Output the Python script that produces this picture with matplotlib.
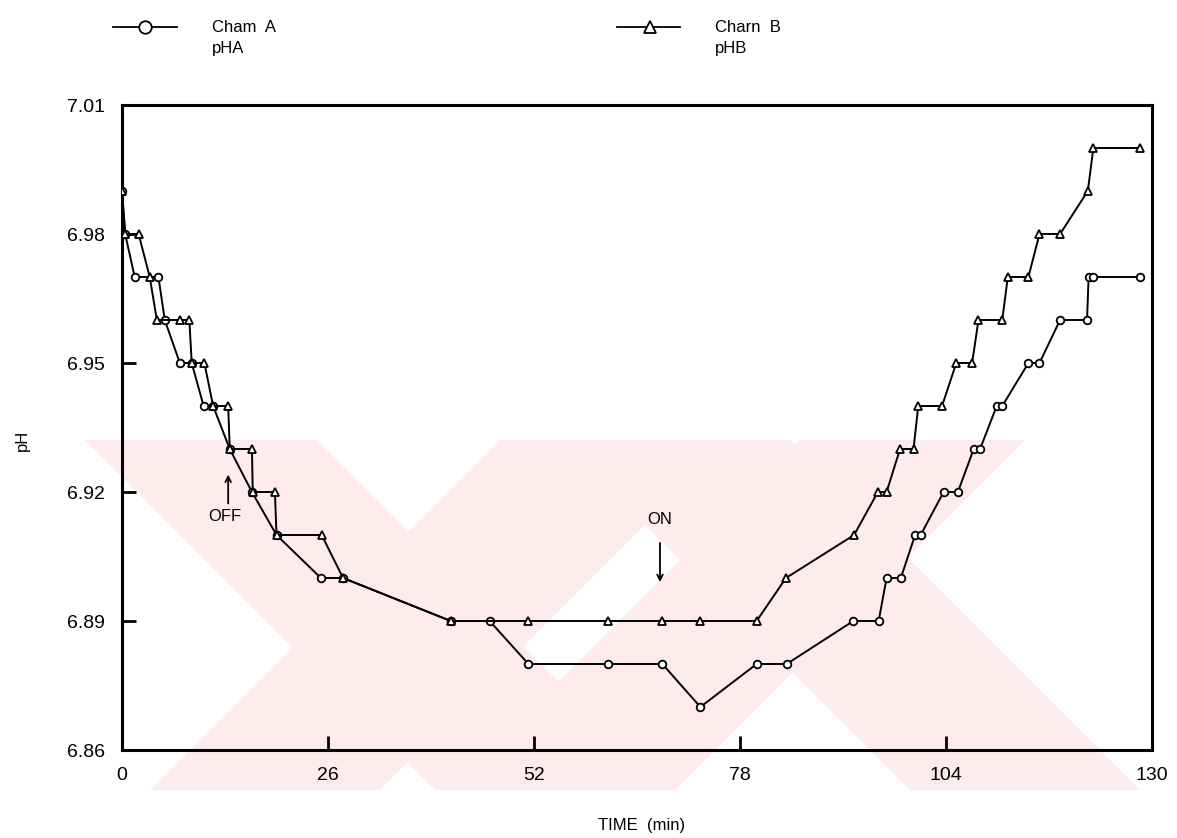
import matplotlib
matplotlib.use("Agg")
import matplotlib.pyplot as plt
from matplotlib.lines import Line2D
from matplotlib.patches import Polygon

plt.rcParams['font.family'] = ['Liberation Sans', 'DejaVu Sans']

# Cham A (circles)
time_a = [0, 0.4, 1.6, 4.6, 5.4, 7.3, 8.8, 10.3, 11.5, 13.6, 16.4, 19.5, 25.1, 27.9,
          41.5, 46.4, 51.3, 61.3, 68.2, 73.0, 80.1, 83.9, 92.3, 95.5, 96.5, 98.3,
          100.1, 100.8, 103.7, 105.5, 107.5, 108.3, 110.4, 111.1, 114.4, 115.8,
          118.4, 121.8, 122.0, 122.6, 128.5]
ph_a = [6.99, 6.98, 6.97, 6.97, 6.96, 6.95, 6.95, 6.94, 6.94, 6.93, 6.92, 6.91, 6.90, 6.90,
        6.89, 6.89, 6.88, 6.88, 6.88, 6.87, 6.88, 6.88, 6.89, 6.89, 6.90, 6.90,
        6.91, 6.91, 6.92, 6.92, 6.93, 6.93, 6.94, 6.94, 6.95, 6.95,
        6.96, 6.96, 6.97, 6.97, 6.97]

# Cham B (triangles)
time_b = [0, 0.4, 2.1, 3.5, 4.4, 7.3, 8.5, 8.8, 10.4, 11.5, 13.4, 13.6, 16.4, 16.5,
          19.3, 19.5, 25.2, 27.9, 41.5, 51.3, 61.3, 68.2, 73.0, 80.1, 83.8, 92.4,
          95.4, 96.5, 98.2, 99.9, 100.5, 103.5, 105.3, 107.3, 108.1, 111.1, 111.8,
          114.4, 115.8, 118.4, 121.9, 122.6, 128.5]
ph_b = [6.99, 6.98, 6.98, 6.97, 6.96, 6.96, 6.96, 6.95, 6.95, 6.94, 6.94, 6.93, 6.93, 6.92,
        6.92, 6.91, 6.91, 6.90, 6.89, 6.89, 6.89, 6.89, 6.89, 6.89, 6.90, 6.91,
        6.92, 6.92, 6.93, 6.93, 6.94, 6.94, 6.95, 6.95, 6.96, 6.96, 6.97,
        6.97, 6.98, 6.98, 6.99, 7.00, 7.00]

x_ticks = [0, 26, 52, 78, 104, 130]
y_ticks = [6.86, 6.89, 6.92, 6.95, 6.98, 7.01]

W, H = 1177, 838
fig = plt.figure(figsize=(W / 100, H / 100), dpi=100)

def fx(px):
    return px / W

def fy(py):
    return 1 - py / H

# faint pink watermark behind the plot
pink = '#fdebee'
def stripe(x0, x1, y0, y1, slope):
    # parallelogram in pixel space, slope=+1 goes down-right
    d = (y1 - y0) * slope
    pts = [(x0, y0), (x1, y0), (x1 + d, y1), (x0 + d, y1)]
    return Polygon([(fx(a), fy(b)) for a, b in pts], closed=True,
                   transform=fig.transFigure, facecolor=pink, edgecolor='none', zorder=0)

for args in [(85, 317, 440, 790, 1), (500, 730, 440, 790, -1),
             (560, 790, 440, 790, 1), (800, 1025, 440, 790, -1)]:
    fig.add_artist(stripe(*args))

ax = fig.add_axes([fx(122), fy(750), (1152 - 122) / W, (750 - 105) / H])
ax.patch.set_alpha(0)

ax.plot(time_a, ph_a, color='black', lw=1.4, marker='o', ms=5.5, mfc='white',
        mec='black', mew=1.3, zorder=3)
ax.plot(time_b, ph_b, color='black', lw=1.4, marker='^', ms=5.5, mfc='white',
        mec='black', mew=1.3, zorder=3)

ax.set_xlim(0, 130)
ax.set_ylim(6.86, 7.01)
ax.set_xticks(x_ticks)
ax.set_yticks(y_ticks)
ax.set_xticklabels([str(v) for v in x_ticks])
ax.set_yticklabels(['%.2f' % v for v in y_ticks])
ax.tick_params(direction='in', length=10, width=2, labelsize=14, pad=12)
for s in ax.spines.values():
    s.set_linewidth(2.2)

ax.annotate('', xy=(13.4, 6.9247), xytext=(13.4, 6.9167),
            arrowprops=dict(arrowstyle='->', color='black', lw=1.3))
ax.text(13.0, 6.9144, 'OFF', ha='center', va='center', fontsize=12)
ax.annotate('', xy=(67.9, 6.8984), xytext=(67.9, 6.9088),
            arrowprops=dict(arrowstyle='->', color='black', lw=1.3))
ax.text(67.9, 6.9135, 'ON', ha='center', va='center', fontsize=12)

fig.text(fx(642), fy(825), 'TIME  (min)', ha='center', va='center', fontsize=12)
fig.text(fx(22), fy(440), 'pH', ha='center', va='center', rotation=90, fontsize=12)

# legend
for x0, x1, xm, mk, lab1, lab2 in [(113, 177, 145, 'o', 'Cham  A', 'pHA'),
                                    (617, 680, 650, '^', 'Charn  B', 'pHB')]:
    fig.add_artist(Line2D([fx(x0), fx(x1)], [fy(27), fy(27)], transform=fig.transFigure,
                          color='black', lw=1.3))
    fig.add_artist(Line2D([fx(xm)], [fy(27)], transform=fig.transFigure, marker=mk,
                          ms=9, mfc='white', mec='black', mew=1.3, lw=0))
    fig.text(fx(x1 + 35), fy(27), lab1, ha='left', va='center', fontsize=12)
    fig.text(fx(x1 + 35), fy(48), lab2, ha='left', va='center', fontsize=12)

fig.savefig('out.png', dpi=100)
